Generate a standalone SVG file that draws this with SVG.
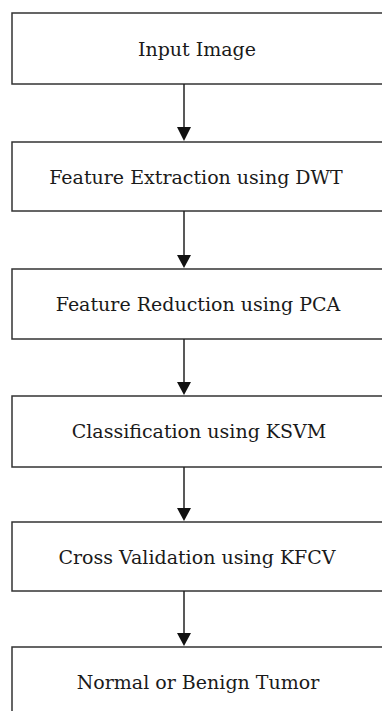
<svg xmlns="http://www.w3.org/2000/svg" width="382" height="711" viewBox="0 0 382 711">
<style>
.box{fill:#fff;stroke:#333;stroke-width:1.5}
.lbl{font-family:'DejaVu Serif','Liberation Serif',serif;font-size:19px;fill:#1a1a1a;text-anchor:middle}
.ln{stroke:#222;stroke-width:1.5;fill:none}
.ah{fill:#111}
</style>
<rect width="382" height="711" fill="#fff"/>
<g id="n1"><rect class="box" x="12" y="13" width="380" height="71"/><text class="lbl" x="197" y="56">Input Image</text></g>
<g id="n2"><rect class="box" x="12" y="142" width="380" height="69"/><text class="lbl" x="196" y="184">Feature Extraction using DWT</text></g>
<g id="n3"><rect class="box" x="12" y="269" width="380" height="70"/><text class="lbl" x="198" y="311">Feature Reduction using PCA</text></g>
<g id="n4"><rect class="box" x="12" y="396" width="380" height="71"/><text class="lbl" x="199" y="438">Classification using KSVM</text></g>
<g id="n5"><rect class="box" x="12" y="522" width="380" height="69"/><text class="lbl" x="197" y="564">Cross Validation using KFCV</text></g>
<g id="n6"><rect class="box" x="12" y="647" width="380" height="80"/><text class="lbl" x="198" y="689">Normal or Benign Tumor</text></g>
<g id="connectors">
<line class="ln" x1="184" y1="84" x2="184" y2="130"/><polygon class="ah" points="177,127 191,127 184,141"/>
<line class="ln" x1="184" y1="211" x2="184" y2="257"/><polygon class="ah" points="177,255 191,255 184,268"/>
<line class="ln" x1="184" y1="339" x2="184" y2="384"/><polygon class="ah" points="177,382 191,382 184,395"/>
<line class="ln" x1="184" y1="467" x2="184" y2="510"/><polygon class="ah" points="177,508 191,508 184,521"/>
<line class="ln" x1="184" y1="591" x2="184" y2="635"/><polygon class="ah" points="177,633 191,633 184,646"/>
</g>
</svg>
